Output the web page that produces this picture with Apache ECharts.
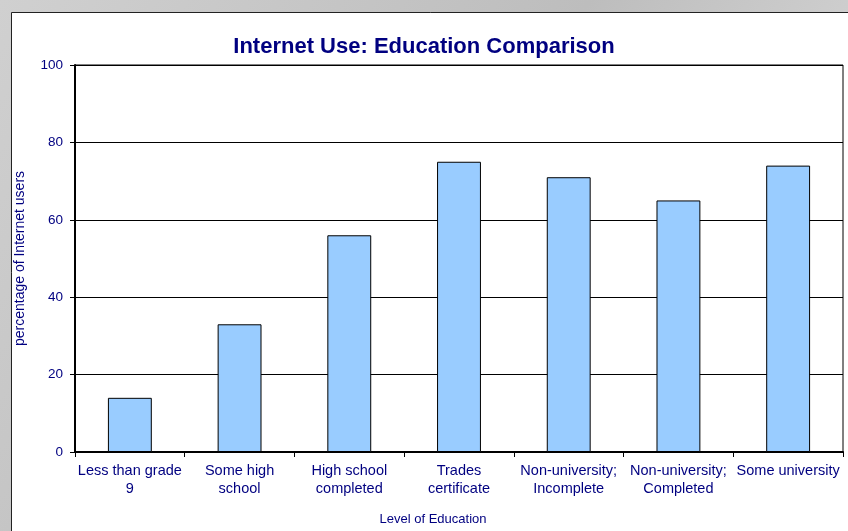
<!DOCTYPE html>
<html><head><meta charset="utf-8">
<script src="https://cdn.jsdelivr.net/npm/echarts@6/dist/echarts.min.js"></script>
<style>html,body{margin:0;padding:0;background:#d4d4d4;}#c{width:848px;height:531px;}</style>
</head><body><div id="c"></div>
<script>
const categories = ['Less than grade\n9', 'Some high\nschool', 'High school\ncompleted', 'Trades\ncertificate', 'Non-university;\nIncomplete', 'Non-university;\nCompleted', 'Some university'];
const values = [14, 33, 56, 75, 71, 65, 74];
const yTicks = [0, 20, 40, 60, 80, 100];

const navy = '#000080';
const chart = echarts.init(document.getElementById('c'));
chart.setOption({
  backgroundColor: {
    type: 'linear', x: 0, y: 0, x2: 1, y2: 1,
    colorStops: [{offset: 0, color: '#d0d0d0'}, {offset: 0.5, color: '#bdbdbd'}, {offset: 1, color: '#e2e2e2'}]
  },
  graphic: [{
    type: 'rect', z: -10, silent: true,
    shape: {x: 11.5, y: 12.5, width: 860, height: 540},
    style: {fill: '#ffffff', stroke: '#222', lineWidth: 1}
  }],
  title: {
    text: 'Internet Use: Education Comparison',
    left: 'center', top: 31,
    textStyle: {color: navy, fontFamily: 'Liberation Sans, Arial', fontWeight: 'bold', fontSize: 22}
  },
  grid: {left: 75, top: 65, right: 5, bottom: 77, show: true, borderColor: '#000', borderWidth: 1, backgroundColor: 'transparent'},
  xAxis: {
    type: 'category', data: categories,
    name: 'Level of Education', nameLocation: 'middle', nameGap: 61,
    nameTextStyle: {color: navy, fontFamily: 'Liberation Sans, Arial', fontSize: 13, padding: [0, 52, 0, 0]},
    axisLine: {lineStyle: {color: '#000', width: 2}},
    axisTick: {show: true, length: 5, lineStyle: {color: '#000'}},
    axisLabel: {color: navy, fontFamily: 'Liberation Sans, Arial', fontSize: 14.5, lineHeight: 18, margin: 10, interval: 0}
  },
  yAxis: {
    type: 'value', min: yTicks[0], max: yTicks[yTicks.length - 1], interval: 20,
    name: 'percentage of Internet users', nameLocation: 'middle', nameGap: 48, nameRotate: 90,
    nameTextStyle: {color: navy, fontFamily: 'Liberation Sans, Arial', fontSize: 14},
    axisLine: {show: true, lineStyle: {color: '#000', width: 2}},
    axisTick: {show: true, length: 5, lineStyle: {color: '#000'}},
    axisLabel: {color: navy, fontFamily: 'Liberation Sans, Arial', fontSize: 13.5, margin: 12},
    splitLine: {lineStyle: {color: '#000', width: 1}}
  },
  series: [{
    type: 'bar', data: values, barWidth: '40%',
    itemStyle: {color: '#99CCFF', borderColor: '#000', borderWidth: 1}
  }],
  animation: false
});
</script></body></html>
